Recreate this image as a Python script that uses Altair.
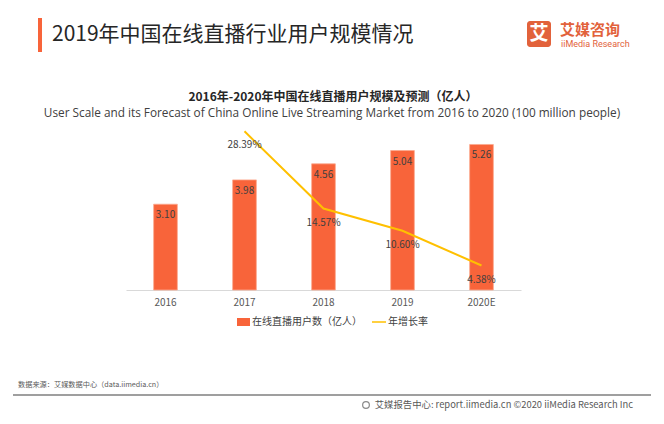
import altair as alt
import pandas as pd

years = ["2016", "2017", "2018", "2019", "2020E"]
users = [3.10, 3.98, 4.56, 5.04, 5.26]
growth = [None, 28.39, 14.57, 10.60, 4.38]
user_labels = ["3.10", "3.98", "4.56", "5.04", "5.26"]
growth_labels = ["", "28.39%", "14.57%", "10.60%", "4.38%"]

header = "2019年中国在线直播行业用户规模情况"
chart_title = "2016年-2020年中国在线直播用户规模及预测（亿人）"
chart_subtitle = "User Scale and its Forecast of China Online Live Streaming Market from 2016 to 2020 (100 million people)"
legend_bar = "在线直播用户数（亿人）"
legend_line = "年增长率"
source = "数据来源：艾媒数据中心（data.iimedia.cn）"
footer_right = "艾媒报告中心: report.iimedia.cn  ©2020  iiMedia Research Inc"

CJK = "Noto Sans CJK SC"
ORANGE = "#F8643A"
YELLOW = "#FFC000"
LOGO = "#E2623B"

PAD_L, PAD_T, PAD_R, PAD_B = 118, 116, 135, 126
W, H = 395, 166


def X(px):
    return px - 8 - PAD_L


def Y(py):
    return py - 8 - PAD_T


df = pd.DataFrame({"year": years, "users": users, "ulabel": user_labels})
dg = pd.DataFrame({"year": years, "growth": growth, "glabel": growth_labels}).dropna()

xenc = alt.X("year:N", sort=years, title=None,
             scale=alt.Scale(paddingInner=0.7, paddingOuter=0.35),
             axis=alt.Axis(labelAngle=0, ticks=False, domainColor="#d9d9d9",
                           labelColor="#595959", labelFontSize=10, labelFont=CJK,
                           labelPadding=7, grid=False))
yu = alt.Y("users:Q", scale=alt.Scale(domain=[0, 6]), axis=None)
yg = alt.Y("growth:Q", scale=alt.Scale(domain=[0, 29.7]), axis=None)

bars = alt.Chart(df).mark_bar(color=ORANGE, stroke="#FBA98F", strokeWidth=0.8).encode(x=xenc, y=yu)
bar_text = alt.Chart(df).mark_text(dy=11, fontSize=10, color="#404040", font=CJK, baseline="middle").encode(
    x=alt.X("year:N", sort=years), y=yu, text="ulabel:N")
line = alt.Chart(dg).mark_line(color=YELLOW, strokeWidth=2).encode(x=alt.X("year:N", sort=years), y=yg)
line_text = alt.Chart(dg).mark_text(dy=14, fontSize=10, color="#404040", font=CJK, baseline="middle").encode(
    x=alt.X("year:N", sort=years), y=yg, text="glabel:N")


def txt(s, x, y, size, color, align="left", weight="normal", font=CJK):
    return alt.Chart(alt.Data(values=[{"t": s}])).mark_text(
        align=align, baseline="middle", fontSize=size, color=color, font=font, fontWeight=weight
    ).encode(x=alt.value(X(x)), y=alt.value(Y(y)), text="t:N")


def rect(x1, x2, y1, y2, color, radius=0):
    return alt.Chart(alt.Data(values=[{"a": 1}])).mark_rect(color=color, cornerRadius=radius).encode(
        x=alt.value(X(x1)), x2=alt.value(X(x2)), y=alt.value(Y(y1)), y2=alt.value(Y(y2)))


def hrule(x1, x2, y, color, width):
    return alt.Chart(alt.Data(values=[{"a": 1}])).mark_rule(color=color, strokeWidth=width).encode(
        x=alt.value(X(x1)), x2=alt.value(X(x2)), y=alt.value(Y(y)))


globe = alt.Chart(alt.Data(values=[{"a": 1}])).mark_point(shape="circle", size=45, color="#595959", strokeWidth=1.2).encode(
    x=alt.value(X(366)), y=alt.value(Y(405)))

decor = [
    rect(38, 42, 18, 52, ORANGE),
    txt(header, 52, 35, 21, "#262626"),
    rect(527, 551, 21, 47, LOGO, 3),
    txt("艾", 539, 34, 19, "#ffffff", align="center", weight="bold"),
    txt("艾媒咨询", 560, 30, 15, LOGO, weight="bold"),
    txt("iiMedia Research", 561, 44, 9, LOGO, font="Roboto"),
    txt(chart_title, 333, 97, 12, "#262626", align="center", weight="bold"),
    txt(chart_subtitle, 332, 113, 11.8, "#404040", align="center", font="Open Sans"),
    rect(237, 250, 318, 326, ORANGE),
    txt(legend_bar, 252, 322, 10, "#404040"),
    hrule(372, 386, 322, YELLOW, 1.5),
    txt(legend_line, 388, 322, 10, "#404040"),
    txt(source, 18, 385, 7.2, "#595959"),
    hrule(13, 651, 395, "#7f7f7f", 1.5),
    globe,
    txt(footer_right, 633, 405, 9.4, "#595959", align="right"),
]

chart = alt.layer(bars, bar_text, line, line_text, *decor).resolve_scale(y="independent").properties(
    width=W, height=H,
    padding={"left": PAD_L, "top": PAD_T, "right": PAD_R, "bottom": PAD_B},
    autosize=alt.AutoSizeParams(type="none"),
).configure(background="#ffffff", view=alt.ViewConfig(stroke=None))

chart.save("out.html", embed_options={"renderer": "svg", "actions": False})
